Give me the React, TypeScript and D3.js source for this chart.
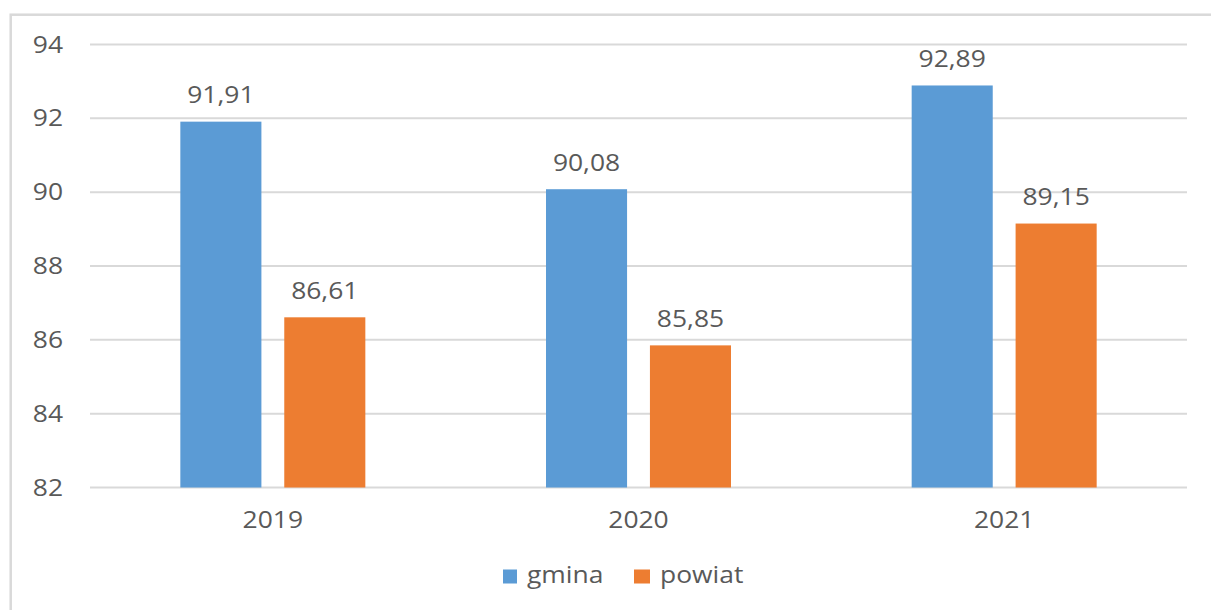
import React from "react";
import * as d3 from "d3";

const categories = ["2019", "2020", "2021"];
const seriesNames = ["gmina", "powiat"];
const gmina = [91.91, 90.08, 92.89];
const powiat = [86.61, 85.85, 89.15];
const yTicks = [82, 84, 86, 88, 90, 92, 94];
const colors = ["#5B9BD5", "#ED7D31"];

const W = 1211;
const H = 610;
const plotLeft = 90;
const plotRight = 1187;
const plotTop = 44.5;
const plotBottom = 487.5;
const FONT = "'Open Sans', sans-serif";
const TXT = "#595959";
const SX = 1.15;

export default function App() {
  const y = d3.scaleLinear().domain([82, 94]).range([plotBottom, plotTop]);
  const x0 = d3.scaleBand<string>().domain(categories).range([plotLeft, plotRight]).padding(0);
  const groupW = 185;
  const x1 = d3.scaleBand<string>().domain(seriesNames).range([0, groupW]).paddingInner(0.22);
  const data = [gmina, powiat];
  const fmt = (v: number) => v.toFixed(2).replace(".", ",");

  const T = (props: { x: number; y: number; anchor: string; children: React.ReactNode; size?: number }) => (
    <text
      transform={`translate(${props.x},${props.y}) scale(${SX},1)`}
      textAnchor={props.anchor as any}
      fontFamily={FONT}
      fontSize={props.size ?? 23}
      fill={TXT}
    >
      {props.children}
    </text>
  );

  return (
    <svg width={W} height={H} style={{ position: "absolute", left: 0, top: 0, display: "block" }}>
      <rect x={0} y={0} width={W} height={H} fill="#fff" />
      <rect x={10.7} y={14.7} width={1400} height={800} fill="none" stroke="#D9D9D9" strokeWidth={2.5} />
      {yTicks.map((t) => (
        <g key={t}>
          <line x1={plotLeft} x2={plotRight} y1={y(t)} y2={y(t)} stroke="#D9D9D9" strokeWidth={2} />
          <T x={63} y={y(t) + 8} anchor="end">{String(t)}</T>
        </g>
      ))}
      {categories.map((c, i) => {
        const gx = (x0(c) as number) + x0.bandwidth() / 2 - groupW / 2;
        return (
          <g key={c}>
            {seriesNames.map((s, j) => {
              const v = data[j][i];
              const bx = gx + (x1(s) as number);
              return (
                <g key={s}>
                  <rect x={bx} y={y(v)} width={x1.bandwidth()} height={plotBottom - y(v)} fill={colors[j]} />
                  <T x={bx + x1.bandwidth() / 2} y={y(v) - 18.5} anchor="middle">{fmt(v)}</T>
                </g>
              );
            })}
            <T x={(x0(c) as number) + x0.bandwidth() / 2} y={plotBottom + 40.5} anchor="middle">{c}</T>
          </g>
        );
      })}
      <g>
        <rect x={503} y={569.5} width={14} height={14} fill={colors[0]} />
        <T x={527} y={583} anchor="start">{seriesNames[0]}</T>
        <rect x={634} y={569.5} width={16} height={14} fill={colors[1]} />
        <T x={660} y={583} anchor="start">{seriesNames[1]}</T>
      </g>
    </svg>
  );
}
